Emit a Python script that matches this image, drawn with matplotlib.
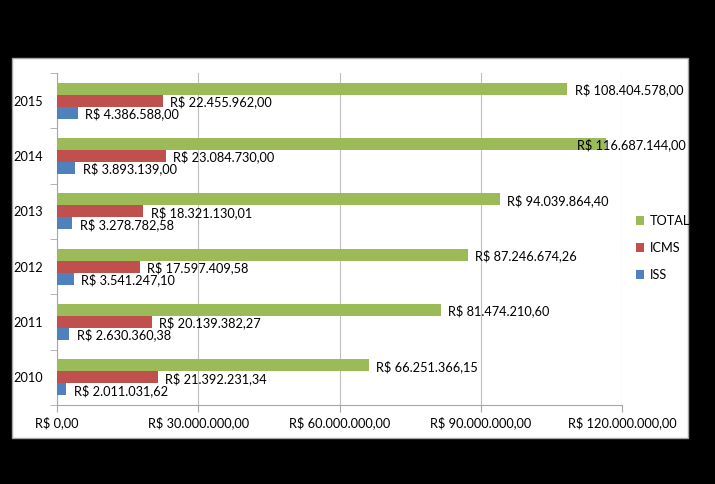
import matplotlib
matplotlib.use("Agg")
import matplotlib.pyplot as plt
from matplotlib.patches import Rectangle, Patch
import numpy as np

plt.rcParams['font.family'] = ['Lato', 'DejaVu Sans']

years = ["2010", "2011", "2012", "2013", "2014", "2015"]
total = [66251366.15, 81474210.60, 87246674.26, 94039864.40, 116687144.00, 108404578.00]
icms = [21392231.34, 20139382.27, 17597409.58, 18321130.01, 23084730.00, 22455962.00]
iss = [2011031.62, 2630360.38, 3541247.10, 3278782.58, 3893139.00, 4386588.00]
xticks = [0, 30000000, 60000000, 90000000, 120000000]
series_names = ["TOTAL", "ICMS", "ISS"]
colors = ["#9BBB59", "#C0504D", "#4F81BD"]

def brl(v):
    s = f"{v:,.2f}"
    s = s.replace(",", "X").replace(".", ",").replace("X", ".")
    return "R$ " + s

W, H = 715, 484
fig = plt.figure(figsize=(W / 100, H / 100), dpi=100, facecolor="black")
fig.patches.append(Rectangle((12 / W, 1 - 438 / H), (688 - 12) / W, (438 - 58) / H,
                             transform=fig.transFigure, facecolor="white",
                             edgecolor="#A6A6A6", lw=1.0, zorder=-5))

ax = fig.add_axes([57 / W, 1 - 405 / H, (622 - 57) / W, (405 - 73) / H])
ax.set_facecolor("white")
ax.patch.set_alpha(0)

n = len(years)
y = np.arange(n)
h = 0.215
offsets = [h, 0, -h]
data = [total, icms, iss]
fsz = 9.2
for vals, off, col in zip(data, offsets, colors):
    ax.barh(y + off, vals, height=h, color=col, zorder=3)
    for yi, v in zip(y, vals):
        xa = min(v / 120000000 + 0.013, 0.92)
        ax.text(xa, yi + off - 0.02, brl(v), transform=ax.get_yaxis_transform(),
                ha="left", va="center", fontsize=fsz, color="black", zorder=4)

ax.set_xlim(0, 120000000)
ax.set_ylim(-0.5, n - 0.5)
ax.set_xticks(xticks)
ax.set_xticklabels([brl(v) for v in xticks], fontsize=fsz)
ax.set_yticks(y)
ax.set_yticklabels(years, fontsize=fsz)
ax.set_yticks(np.arange(-0.5, n, 1), minor=True)
ax.tick_params(axis="y", which="major", length=0, pad=10)
ax.tick_params(axis="y", which="minor", length=5, color="#A6A6A6")
ax.tick_params(axis="x", length=5, color="#A6A6A6", pad=3)
ax.grid(axis="x", color="#BFBFBF", lw=0.8, zorder=0)
for s in ["top", "right"]:
    ax.spines[s].set_visible(False)
for s in ["left", "bottom"]:
    ax.spines[s].set_color("#A6A6A6")

handles = [Patch(facecolor=c, edgecolor="none") for c in colors]
fig.legend(handles, series_names, loc="center left", bbox_to_anchor=(624 / W, 1 - 248 / H),
           frameon=False, fontsize=fsz, handlelength=0.7, handleheight=0.7,
           handletextpad=0.4, labelspacing=1.15)

fig.savefig("out.png", dpi=100, facecolor="black")
